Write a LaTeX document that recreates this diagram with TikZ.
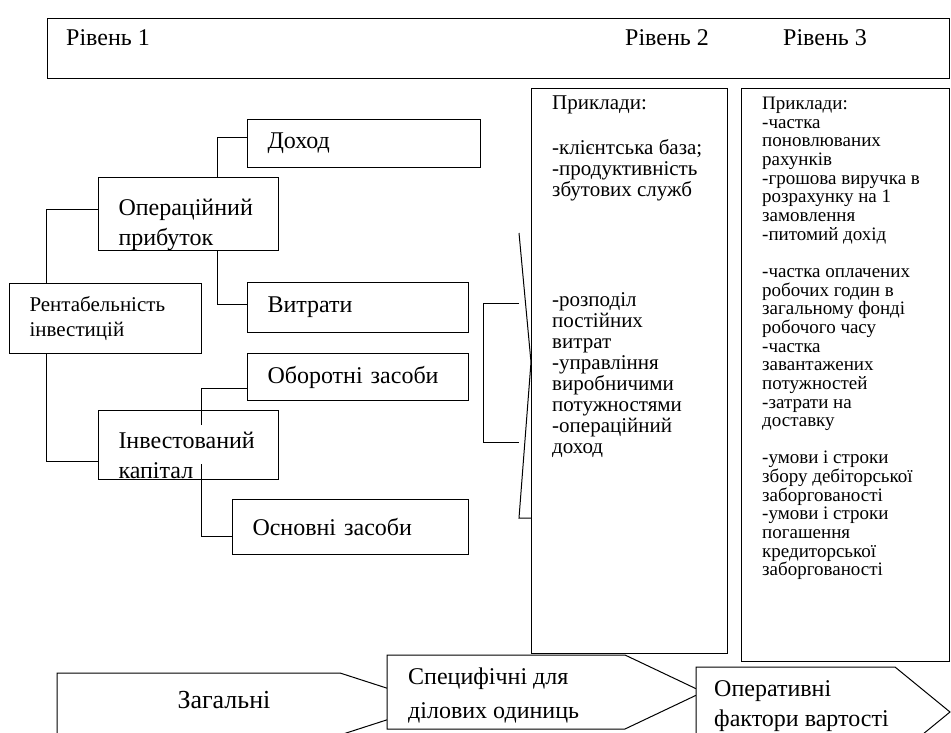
\documentclass[tikz,border=0pt]{standalone}
\usepackage{fontspec}
\setmainfont{Liberation Serif}
\usetikzlibrary{positioning,calc}

\tikzset{
  lvlbox/.style={draw,line width=1pt,anchor=north west,align=left,inner xsep=20pt,inner ysep=0pt,font=\fontsize{24}{30}\selectfont},
  colbox/.style={draw,line width=1.4pt,anchor=north west,inner sep=0pt},
  coltext/.style={anchor=north west,inner sep=0pt,align=left},
  lvltext/.style={anchor=base west,inner sep=0pt,font=\fontsize{24}{28}\selectfont},
  link/.style={line width=1pt},
  stage/.style={draw,line width=1pt,fill=white,line join=miter},
}

\begin{document}
\begin{tikzpicture}[x=1pt,y=-1pt]
\useasboundingbox (0,0) rectangle (951,733);
\clip (0,0) rectangle (951,733);

% header with the three levels
\node[colbox,minimum width=902,minimum height=60] (levels) at (47,18) {};
\node[lvltext] (lvl1) at (66,46) {Рівень 1};
\node[lvltext] (lvl2) at (625,46) {Рівень 2};
\node[lvltext] (lvl3) at (783,46) {Рівень 3};

% level 1 tree
\node[lvlbox,text width=193,minimum height=48] (income) at (247,119) {Доход};
\node[lvlbox,text width=140,minimum height=70] (opprofit) at (98,177) {\rule{0pt}{38pt}Операційний\\прибуток};
\node[lvlbox,text width=152,minimum height=70,font=\fontsize{21}{25}\selectfont] (roi) at (9,283) {Рентабельність\\інвестицій};
\node[lvlbox,text width=181,minimum height=50] (costs) at (247,282) {Витрати};
\node[lvlbox,text width=181,minimum height=47] (wcap) at (247,353) {Оборотні засоби};
\node[lvlbox,text width=140,minimum height=69] (invcap) at (98,410) {\rule{0pt}{38pt}Інвестований\\капітал};
\node[lvlbox,text width=196,minimum height=55] (fixed) at (232,499) {Основні засоби};

\draw[link] ([xshift=37pt]roi.north west) |- ([yshift=5pt]opprofit.west);
\draw[link] ([xshift=37pt]roi.south west) |- ([yshift=-16pt]invcap.west);
\draw[link] ([xshift=29pt]opprofit.north) |- ([yshift=6pt]income.west);
\draw[link] ([xshift=29pt]opprofit.south) |- ([yshift=3pt]costs.west);
\draw[link] ([xshift=13pt,yshift=-15pt]invcap.north) |- ([yshift=-11.5pt]wcap.west);
\draw[link] ([xshift=13pt,yshift=16pt]invcap.south) |- ([yshift=-9.5pt]fixed.west);

% level 2 and level 3 columns
\node[colbox,minimum width=196,minimum height=565] (ex2) at (531,88) {};
\node[colbox,minimum width=208,minimum height=573] (ex3) at (741,88) {};

\node[coltext,font=\fontsize{21}{21}\selectfont] (ex2txt) at (552,96) {Приклади:\\[24pt]
-клієнтська база;\\
-продуктивність\\
збутових служб\\[89pt]
-розподіл\\
постійних\\
витрат\\
-управління\\
виробничими\\
потужностями\\
-операційний\\
доход};

\node[coltext,font=\fontsize{19}{18.65}\selectfont] (ex3txt) at (762,97) {Приклади:\\
-частка\\
поновлюваних\\
рахунків\\
-грошова виручка в\\
розрахунку на 1\\
замовлення\\
-питомий дохід\\[18.65pt]
-частка оплачених\\
робочих годин в\\
загальному фонді\\
робочого часу\\
-частка\\
завантажених\\
потужностей\\
-затрати на\\
доставку\\[18.65pt]
-умови і строки\\
збору дебіторської\\
заборгованості\\
-умови і строки\\
погашення\\
кредиторської\\
заборгованості};

% bracket pointing into level 2
\coordinate (brtop) at (519,303);
\coordinate (brbot) at (519,442);
\draw[link] (brtop) -- ++(-36,0) |- (brbot);
\coordinate (angtop) at (519,233);
\coordinate (angbot) at (519,518);
\draw[link] (angtop) -- ([yshift=9pt]ex2.west) -- (angbot) -- ++(12,0);

% bottom stages
\draw[stage] (57,735) -- (57,673) -- (340,673) -- (436,704) -- (340,735) -- cycle;
\node[font=\fontsize{26}{30}\selectfont] (general) at (224,700) {Загальні};
\draw[stage] (387,655) -- (625,655) -- (703,692) -- (625,729) -- (387,729) -- cycle;
\node[anchor=west,align=left,inner sep=0pt,font=\fontsize{24}{34}\selectfont] (specific) at (408,695) {Специфічні для\\ділових одиниць};
\draw[stage] (696,760) -- (696,667) -- (895,667) -- (950,712) -- (895,757) -- cycle;
\node[anchor=west,align=left,inner sep=0pt,font=\fontsize{24}{30}\selectfont] (operative) at (714,706) {Оперативні\\фактори вартості};
\end{tikzpicture}
\end{document}
